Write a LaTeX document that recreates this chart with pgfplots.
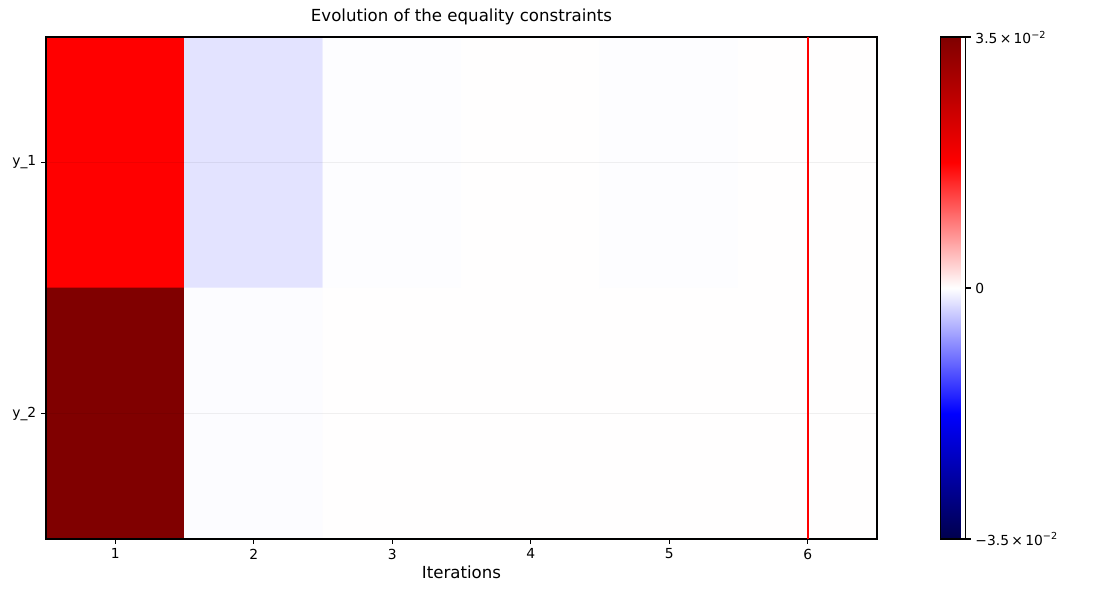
\documentclass[border=0pt]{standalone}
\usepackage{fontspec}
\setmainfont{DejaVu Sans}
\usepackage{pgfplots}
\pgfplotsset{compat=1.18}
\usepackage{pgfplotstable}
\pgfplotstableread{
x y c
1 1 0.0175
2 1 -0.0019
3 1 -0.00015
4 1 0.0001
5 1 -0.0001
6 1 0.0001
1 2 0.035
2 2 -0.0002
3 2 0.0001
4 2 0.0001
5 2 0.0001
6 2 0.0001
}\datatable
\pgfplotstableread{
x y
6 0.5
6 2.5
}\linetable
\begin{document}
\begin{tikzpicture}
\begin{axis}[
  at={(0,0)}, anchor=south west,
  scale only axis,
  width=598.3bp, height=361.4bp,
  xmin=0.5, xmax=6.5, ymin=0.5, ymax=2.5,
  y dir=reverse,
  enlargelimits=false,
  xtick={1,2,3,4,5,6},
  ytick={1,2}, yticklabels={y\_1, y\_2},
  ymajorgrids, major grid style={color=black, draw opacity=0.06, line width=0.8bp},
  tick align=outside, major tick length=3.5bp,
  tick style={black, line width=0.8bp},
  xtick pos=bottom, ytick pos=left,
  axis line style={line width=0.8bp},
  /pgf/number format/assume math mode=true,
  tick label style={font=\fontsize{10}{12}\selectfont},
  title={Evolution of the equality constraints},
  title style={font=\fontsize{12}{14}\selectfont, yshift=-1bp},
  xlabel={Iterations},
  xlabel style={font=\fontsize{12}{14}\selectfont, yshift=2bp},
  colormap={seismic}{rgb=(0,0,0.3) rgb=(0,0,1) rgb=(1,1,1) rgb=(1,0,0) rgb=(0.5,0,0)},
  point meta min=-0.035, point meta max=0.035,
  colorbar,
  colorbar style={
    width=18bp,
    at={(parent axis.south east)}, anchor=south west, xshift=37.4bp,
    scaled y ticks=false,
    ytick={-0.035,0,0.035},
    yticklabels={−3.5\,×\,10\textsuperscript{−2}, 0, 3.5\,×\,10\textsuperscript{−2}},
    ytick pos=right,
    tick align=outside, major tick length=3.5bp,
    tick style={black, line width=0.8bp},
    yticklabel style={font=\fontsize{10}{12}\selectfont},
    axis line style={line width=0.8bp},
  },
  set layers, axis on top,
]
\addplot[matrix plot*, mesh/cols=6, point meta=explicit] table[x=x, y=y, meta=c] {\datatable};
\addplot[red, line width=1.5bp, mark=none, forget plot, on layer=axis foreground] table[x=x, y=y] {\linetable};
\end{axis}
\pgfresetboundingbox
\path[use as bounding box] (-33.12bp,-43.92bp) rectangle (758.88bp,388.08bp);
\end{tikzpicture}
\end{document}
